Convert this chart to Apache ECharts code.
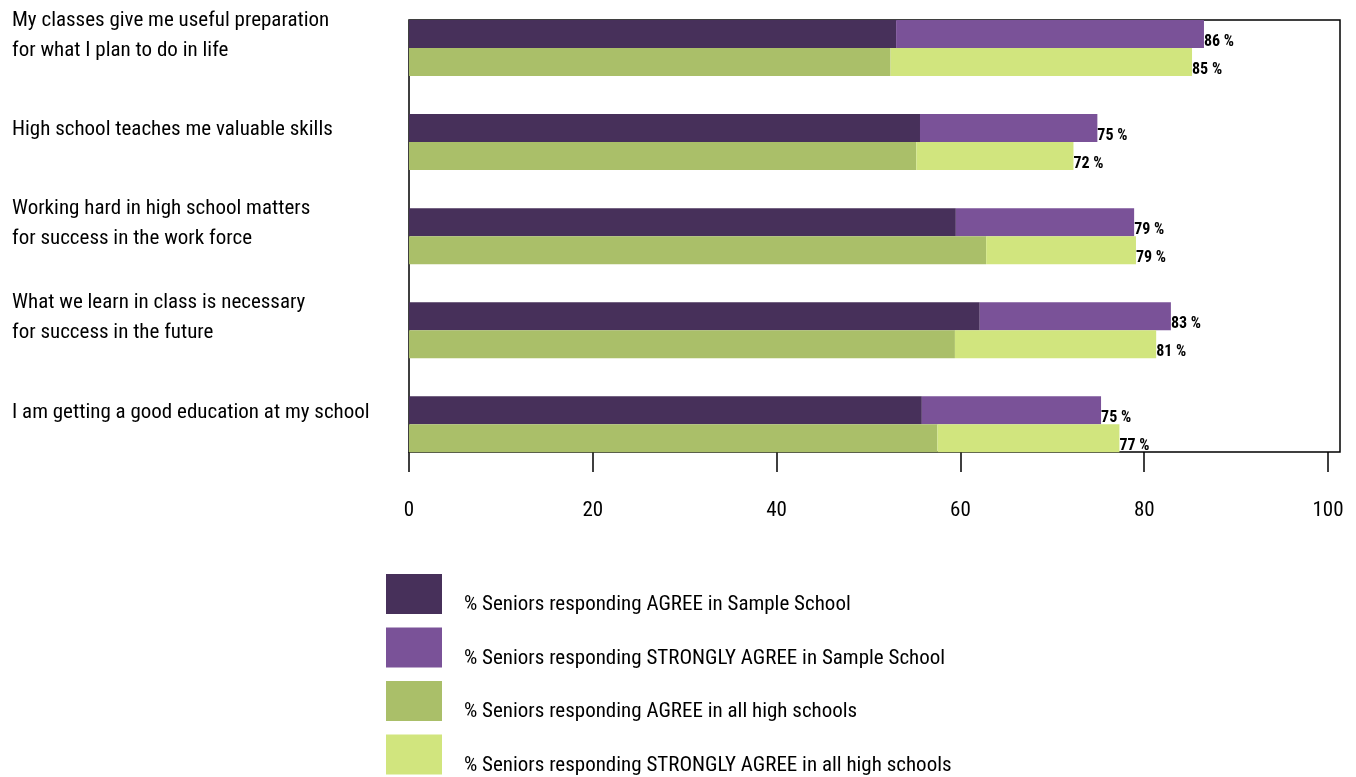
<!DOCTYPE html>
<html>
<head>
<meta charset="utf-8">
<script src="https://cdn.jsdelivr.net/npm/echarts@6/dist/echarts.min.js"></script>
<style>html,body{margin:0;padding:0;background:#fff}#c{width:1356px;height:777px}</style>
</head>
<body>
<div id="c"></div>
<script>
var categories = [
  "My classes give me useful preparation\nfor what I plan to do in life",
  "High school teaches me valuable skills",
  "Working hard in high school matters\nfor success in the work force",
  "What we learn in class is necessary\nfor success in the future",
  "I am getting a good education at my school"
];
var sampleAgree = [53.0, 55.6, 59.5, 62.1, 55.8];
var sampleStrong = [33.5, 19.3, 19.4, 20.8, 19.5];
var allAgree = [52.4, 55.2, 62.8, 59.4, 57.5];
var allStrong = [32.8, 17.1, 16.3, 21.9, 19.8];
var sampleLabels = [86, 75, 79, 83, 75];
var allLabels = [85, 72, 79, 81, 77];
var xTicks = [0, 20, 40, 60, 80, 100];
var seriesNames = [
  "% Seniors responding AGREE in Sample School",
  "% Seniors responding STRONGLY AGREE in Sample School",
  "% Seniors responding AGREE in all high schools",
  "% Seniors responding STRONGLY AGREE in all high schools"
];

var FONT = '"Roboto Condensed", sans-serif';
var XMAX = 101.3;

var chart = echarts.init(document.getElementById('c'), null, {renderer: 'canvas'});

function lbl(arr) {
  return {
    show: true, position: 'right', distance: 0, offset: [0, 8],
    fontFamily: FONT, fontWeight: 'bold', fontSize: 16, color: '#000',
    formatter: function (p) { return arr[p.dataIndex] + ' %'; }
  };
}

var option = {
  animation: false,
  backgroundColor: '#fff',
  grid: [
    {left: 409, width: 931, top: 0.96, height: 470.4},
    {left: 409, width: 931, top: 20, height: 432, show: true, borderColor: '#000', borderWidth: 1.5, backgroundColor: 'transparent'}
  ],
  xAxis: [
    {gridIndex: 0, type: 'value', min: 0, max: XMAX, show: false},
    {gridIndex: 1, type: 'value', min: 0, max: XMAX, interval: 20,
     axisLine: {show: false},
     splitLine: {show: false},
     axisTick: {show: true, length: 20, inside: false, customValues: xTicks, lineStyle: {color: '#000', width: 1.5}},
     axisLabel: {customValues: xTicks, margin: 48, fontFamily: FONT, fontSize: 21, color: '#000'}
    }
  ],
  yAxis: [
    {gridIndex: 0, type: 'category', data: categories, inverse: true,
     axisLine: {show: false}, axisTick: {show: false}, splitLine: {show: false},
     axisLabel: {align: 'left', margin: 397, color: '#000',
                 formatter: function (v) {
                   return v.split('\n').map(function (l) { return '{a|' + l + '}'; }).join('\n') + '\n{s| }';
                 },
                 rich: {
                   a: {fontFamily: FONT, fontSize: 21, lineHeight: 30, color: '#000', align: 'left'},
                   s: {fontFamily: FONT, fontSize: 2, lineHeight: 24}
                 }
     }
    },
    {gridIndex: 1, type: 'value', show: false, min: 0, max: 1}
  ],
  legend: {
    orient: 'vertical', left: 386, top: 574, height: 220, itemWidth: 56, itemHeight: 40, itemGap: 12,
    padding: 0, icon: 'rect', data: seriesNames,
    selectedMode: false,
    formatter: function (name) { return '{s| }\n{t|' + name + '}'; },
    textStyle: {
      fontFamily: FONT, fontSize: 21, color: '#000',
      rich: {
        s: {fontFamily: FONT, fontSize: 2, lineHeight: 22, padding: [0, 0, 0, 17]},
        t: {fontFamily: FONT, fontSize: 21, lineHeight: 18, color: '#000', padding: [0, 0, 0, 17]}
      }
    }
  },
  series: [
    {name: seriesNames[0], type: 'bar', xAxisIndex: 0, yAxisIndex: 0, stack: 'sample', barWidth: 28, barGap: '0%',
     itemStyle: {color: '#47305A'}, data: sampleAgree},
    {name: seriesNames[1], type: 'bar', xAxisIndex: 0, yAxisIndex: 0, stack: 'sample', barWidth: 28, barGap: '0%',
     itemStyle: {color: '#7A5298'}, data: sampleStrong, label: lbl(sampleLabels)},
    {name: seriesNames[2], type: 'bar', xAxisIndex: 0, yAxisIndex: 0, stack: 'all', barWidth: 28, barGap: '0%',
     itemStyle: {color: '#AABF69'}, data: allAgree},
    {name: seriesNames[3], type: 'bar', xAxisIndex: 0, yAxisIndex: 0, stack: 'all', barWidth: 28, barGap: '0%',
     itemStyle: {color: '#D1E57E'}, data: allStrong, label: lbl(allLabels)}
  ]
};
chart.setOption(option);
</script>
</body>
</html>
